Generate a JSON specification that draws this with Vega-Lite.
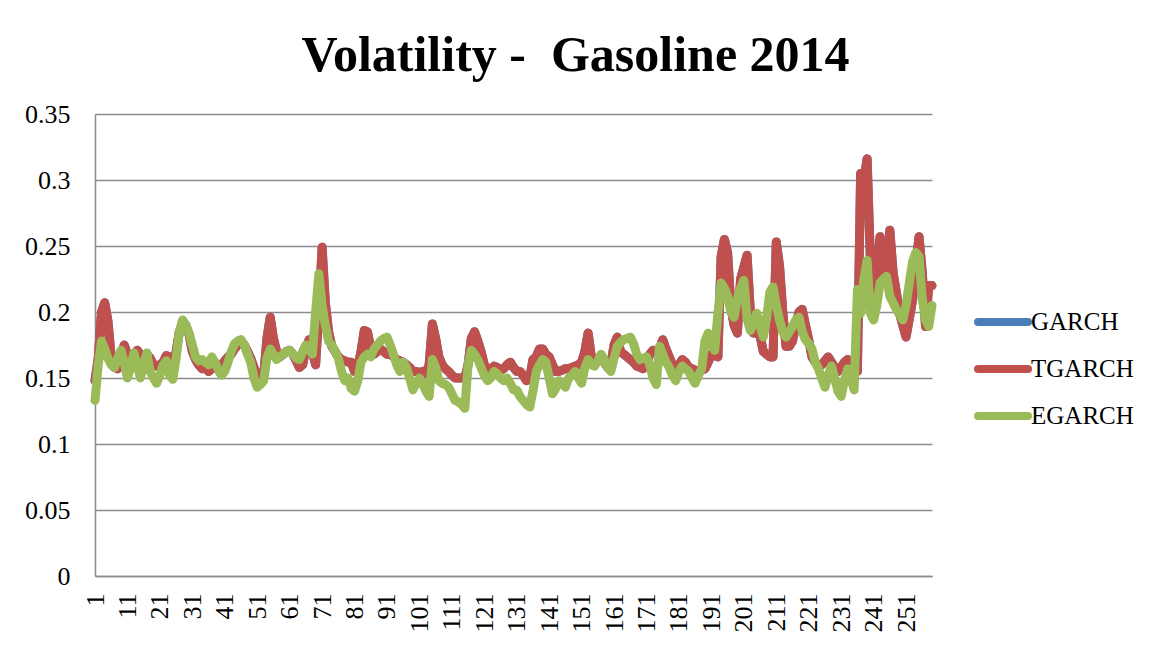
{
"$schema": "https://vega.github.io/schema/vega-lite/v6.json",
"width": 837, "height": 462,
"autosize": {"type": "none"},
"padding": {"left": 95, "top": 114, "right": 219, "bottom": 76},
"background": "white",
"title": {"text": "Volatility - \u00a0Gasoline 2014", "font": "Liberation Serif", "fontSize": 50, "fontWeight": "bold", "color": "black", "anchor": "middle", "dx": 62, "offset": 20},
"data": {"values": [
{"i":1,"GARCH":0.148,"TGARCH":0.148,"EGARCH":0.133},
{"i":2,"GARCH":0.165,"TGARCH":0.165,"EGARCH":0.160},
{"i":3,"GARCH":0.200,"TGARCH":0.200,"EGARCH":0.178},
{"i":4,"GARCH":0.207,"TGARCH":0.207,"EGARCH":0.172},
{"i":5,"GARCH":0.193,"TGARCH":0.193,"EGARCH":0.165},
{"i":6,"GARCH":0.165,"TGARCH":0.165,"EGARCH":0.160},
{"i":7,"GARCH":0.158,"TGARCH":0.158,"EGARCH":0.158},
{"i":8,"GARCH":0.157,"TGARCH":0.157,"EGARCH":0.165},
{"i":9,"GARCH":0.165,"TGARCH":0.165,"EGARCH":0.171},
{"i":10,"GARCH":0.175,"TGARCH":0.175,"EGARCH":0.162},
{"i":11,"GARCH":0.168,"TGARCH":0.168,"EGARCH":0.150},
{"i":12,"GARCH":0.157,"TGARCH":0.157,"EGARCH":0.158},
{"i":13,"GARCH":0.165,"TGARCH":0.165,"EGARCH":0.169},
{"i":14,"GARCH":0.171,"TGARCH":0.171,"EGARCH":0.160},
{"i":15,"GARCH":0.168,"TGARCH":0.168,"EGARCH":0.150},
{"i":16,"GARCH":0.166,"TGARCH":0.166,"EGARCH":0.160},
{"i":17,"GARCH":0.168,"TGARCH":0.168,"EGARCH":0.169},
{"i":18,"GARCH":0.165,"TGARCH":0.165,"EGARCH":0.155},
{"i":19,"GARCH":0.160,"TGARCH":0.160,"EGARCH":0.150},
{"i":20,"GARCH":0.159,"TGARCH":0.159,"EGARCH":0.146},
{"i":21,"GARCH":0.160,"TGARCH":0.160,"EGARCH":0.152},
{"i":22,"GARCH":0.162,"TGARCH":0.162,"EGARCH":0.160},
{"i":23,"GARCH":0.167,"TGARCH":0.167,"EGARCH":0.163},
{"i":24,"GARCH":0.166,"TGARCH":0.166,"EGARCH":0.152},
{"i":25,"GARCH":0.160,"TGARCH":0.160,"EGARCH":0.149},
{"i":26,"GARCH":0.170,"TGARCH":0.170,"EGARCH":0.165},
{"i":27,"GARCH":0.185,"TGARCH":0.185,"EGARCH":0.185},
{"i":28,"GARCH":0.190,"TGARCH":0.190,"EGARCH":0.194},
{"i":29,"GARCH":0.190,"TGARCH":0.190,"EGARCH":0.190},
{"i":30,"GARCH":0.183,"TGARCH":0.183,"EGARCH":0.184},
{"i":31,"GARCH":0.170,"TGARCH":0.170,"EGARCH":0.175},
{"i":32,"GARCH":0.164,"TGARCH":0.164,"EGARCH":0.166},
{"i":33,"GARCH":0.160,"TGARCH":0.160,"EGARCH":0.163},
{"i":34,"GARCH":0.157,"TGARCH":0.157,"EGARCH":0.164},
{"i":35,"GARCH":0.158,"TGARCH":0.158,"EGARCH":0.162},
{"i":36,"GARCH":0.155,"TGARCH":0.155,"EGARCH":0.160},
{"i":37,"GARCH":0.157,"TGARCH":0.157,"EGARCH":0.166},
{"i":38,"GARCH":0.160,"TGARCH":0.160,"EGARCH":0.162},
{"i":39,"GARCH":0.158,"TGARCH":0.158,"EGARCH":0.156},
{"i":40,"GARCH":0.160,"TGARCH":0.160,"EGARCH":0.152},
{"i":41,"GARCH":0.163,"TGARCH":0.163,"EGARCH":0.155},
{"i":42,"GARCH":0.166,"TGARCH":0.166,"EGARCH":0.162},
{"i":43,"GARCH":0.168,"TGARCH":0.168,"EGARCH":0.170},
{"i":44,"GARCH":0.172,"TGARCH":0.172,"EGARCH":0.176},
{"i":45,"GARCH":0.175,"TGARCH":0.175,"EGARCH":0.178},
{"i":46,"GARCH":0.176,"TGARCH":0.176,"EGARCH":0.179},
{"i":47,"GARCH":0.175,"TGARCH":0.175,"EGARCH":0.175},
{"i":48,"GARCH":0.170,"TGARCH":0.170,"EGARCH":0.168},
{"i":49,"GARCH":0.165,"TGARCH":0.165,"EGARCH":0.162},
{"i":50,"GARCH":0.158,"TGARCH":0.158,"EGARCH":0.150},
{"i":51,"GARCH":0.152,"TGARCH":0.152,"EGARCH":0.143},
{"i":52,"GARCH":0.150,"TGARCH":0.150,"EGARCH":0.145},
{"i":53,"GARCH":0.152,"TGARCH":0.152,"EGARCH":0.148},
{"i":54,"GARCH":0.180,"TGARCH":0.180,"EGARCH":0.165},
{"i":55,"GARCH":0.196,"TGARCH":0.196,"EGARCH":0.172},
{"i":56,"GARCH":0.180,"TGARCH":0.180,"EGARCH":0.168},
{"i":57,"GARCH":0.170,"TGARCH":0.170,"EGARCH":0.164},
{"i":58,"GARCH":0.166,"TGARCH":0.166,"EGARCH":0.166},
{"i":59,"GARCH":0.168,"TGARCH":0.168,"EGARCH":0.168},
{"i":60,"GARCH":0.170,"TGARCH":0.170,"EGARCH":0.170},
{"i":61,"GARCH":0.171,"TGARCH":0.171,"EGARCH":0.171},
{"i":62,"GARCH":0.168,"TGARCH":0.168,"EGARCH":0.168},
{"i":63,"GARCH":0.163,"TGARCH":0.163,"EGARCH":0.165},
{"i":64,"GARCH":0.158,"TGARCH":0.158,"EGARCH":0.164},
{"i":65,"GARCH":0.160,"TGARCH":0.160,"EGARCH":0.170},
{"i":66,"GARCH":0.172,"TGARCH":0.172,"EGARCH":0.175},
{"i":67,"GARCH":0.179,"TGARCH":0.179,"EGARCH":0.172},
{"i":68,"GARCH":0.170,"TGARCH":0.170,"EGARCH":0.168},
{"i":69,"GARCH":0.160,"TGARCH":0.160,"EGARCH":0.200},
{"i":70,"GARCH":0.200,"TGARCH":0.200,"EGARCH":0.229},
{"i":71,"GARCH":0.249,"TGARCH":0.249,"EGARCH":0.205},
{"i":72,"GARCH":0.207,"TGARCH":0.207,"EGARCH":0.190},
{"i":73,"GARCH":0.185,"TGARCH":0.185,"EGARCH":0.178},
{"i":74,"GARCH":0.174,"TGARCH":0.174,"EGARCH":0.175},
{"i":75,"GARCH":0.170,"TGARCH":0.170,"EGARCH":0.170},
{"i":76,"GARCH":0.166,"TGARCH":0.166,"EGARCH":0.165},
{"i":77,"GARCH":0.164,"TGARCH":0.164,"EGARCH":0.155},
{"i":78,"GARCH":0.163,"TGARCH":0.163,"EGARCH":0.148},
{"i":79,"GARCH":0.162,"TGARCH":0.162,"EGARCH":0.150},
{"i":80,"GARCH":0.162,"TGARCH":0.162,"EGARCH":0.142},
{"i":81,"GARCH":0.155,"TGARCH":0.155,"EGARCH":0.140},
{"i":82,"GARCH":0.158,"TGARCH":0.158,"EGARCH":0.148},
{"i":83,"GARCH":0.170,"TGARCH":0.170,"EGARCH":0.162},
{"i":84,"GARCH":0.186,"TGARCH":0.186,"EGARCH":0.166},
{"i":85,"GARCH":0.185,"TGARCH":0.185,"EGARCH":0.168},
{"i":86,"GARCH":0.172,"TGARCH":0.172,"EGARCH":0.166},
{"i":87,"GARCH":0.168,"TGARCH":0.168,"EGARCH":0.172},
{"i":88,"GARCH":0.170,"TGARCH":0.170,"EGARCH":0.175},
{"i":89,"GARCH":0.172,"TGARCH":0.172,"EGARCH":0.178},
{"i":90,"GARCH":0.170,"TGARCH":0.170,"EGARCH":0.180},
{"i":91,"GARCH":0.168,"TGARCH":0.168,"EGARCH":0.181},
{"i":92,"GARCH":0.168,"TGARCH":0.168,"EGARCH":0.175},
{"i":93,"GARCH":0.166,"TGARCH":0.166,"EGARCH":0.168},
{"i":94,"GARCH":0.164,"TGARCH":0.164,"EGARCH":0.160},
{"i":95,"GARCH":0.163,"TGARCH":0.163,"EGARCH":0.155},
{"i":96,"GARCH":0.162,"TGARCH":0.162,"EGARCH":0.162},
{"i":97,"GARCH":0.160,"TGARCH":0.160,"EGARCH":0.158},
{"i":98,"GARCH":0.158,"TGARCH":0.158,"EGARCH":0.150},
{"i":99,"GARCH":0.155,"TGARCH":0.155,"EGARCH":0.141},
{"i":100,"GARCH":0.155,"TGARCH":0.155,"EGARCH":0.146},
{"i":101,"GARCH":0.154,"TGARCH":0.154,"EGARCH":0.150},
{"i":102,"GARCH":0.155,"TGARCH":0.155,"EGARCH":0.146},
{"i":103,"GARCH":0.153,"TGARCH":0.153,"EGARCH":0.140},
{"i":104,"GARCH":0.160,"TGARCH":0.160,"EGARCH":0.136},
{"i":105,"GARCH":0.191,"TGARCH":0.191,"EGARCH":0.164},
{"i":106,"GARCH":0.180,"TGARCH":0.180,"EGARCH":0.158},
{"i":107,"GARCH":0.166,"TGARCH":0.166,"EGARCH":0.148},
{"i":108,"GARCH":0.160,"TGARCH":0.160,"EGARCH":0.146},
{"i":109,"GARCH":0.157,"TGARCH":0.157,"EGARCH":0.145},
{"i":110,"GARCH":0.155,"TGARCH":0.155,"EGARCH":0.143},
{"i":111,"GARCH":0.152,"TGARCH":0.152,"EGARCH":0.138},
{"i":112,"GARCH":0.150,"TGARCH":0.150,"EGARCH":0.133},
{"i":113,"GARCH":0.150,"TGARCH":0.150,"EGARCH":0.132},
{"i":114,"GARCH":0.150,"TGARCH":0.150,"EGARCH":0.130},
{"i":115,"GARCH":0.150,"TGARCH":0.150,"EGARCH":0.127},
{"i":116,"GARCH":0.160,"TGARCH":0.160,"EGARCH":0.160},
{"i":117,"GARCH":0.180,"TGARCH":0.180,"EGARCH":0.171},
{"i":118,"GARCH":0.185,"TGARCH":0.185,"EGARCH":0.168},
{"i":119,"GARCH":0.178,"TGARCH":0.178,"EGARCH":0.164},
{"i":120,"GARCH":0.170,"TGARCH":0.170,"EGARCH":0.158},
{"i":121,"GARCH":0.160,"TGARCH":0.160,"EGARCH":0.152},
{"i":122,"GARCH":0.157,"TGARCH":0.157,"EGARCH":0.148},
{"i":123,"GARCH":0.156,"TGARCH":0.156,"EGARCH":0.150},
{"i":124,"GARCH":0.159,"TGARCH":0.159,"EGARCH":0.155},
{"i":125,"GARCH":0.158,"TGARCH":0.158,"EGARCH":0.153},
{"i":126,"GARCH":0.156,"TGARCH":0.156,"EGARCH":0.150},
{"i":127,"GARCH":0.157,"TGARCH":0.157,"EGARCH":0.148},
{"i":128,"GARCH":0.160,"TGARCH":0.160,"EGARCH":0.150},
{"i":129,"GARCH":0.162,"TGARCH":0.162,"EGARCH":0.146},
{"i":130,"GARCH":0.158,"TGARCH":0.158,"EGARCH":0.141},
{"i":131,"GARCH":0.155,"TGARCH":0.155,"EGARCH":0.141},
{"i":132,"GARCH":0.155,"TGARCH":0.155,"EGARCH":0.136},
{"i":133,"GARCH":0.152,"TGARCH":0.152,"EGARCH":0.133},
{"i":134,"GARCH":0.148,"TGARCH":0.148,"EGARCH":0.130},
{"i":135,"GARCH":0.150,"TGARCH":0.150,"EGARCH":0.128},
{"i":136,"GARCH":0.164,"TGARCH":0.164,"EGARCH":0.140},
{"i":137,"GARCH":0.166,"TGARCH":0.166,"EGARCH":0.155},
{"i":138,"GARCH":0.172,"TGARCH":0.172,"EGARCH":0.160},
{"i":139,"GARCH":0.172,"TGARCH":0.172,"EGARCH":0.164},
{"i":140,"GARCH":0.168,"TGARCH":0.168,"EGARCH":0.162},
{"i":141,"GARCH":0.166,"TGARCH":0.166,"EGARCH":0.150},
{"i":142,"GARCH":0.160,"TGARCH":0.160,"EGARCH":0.138},
{"i":143,"GARCH":0.155,"TGARCH":0.155,"EGARCH":0.142},
{"i":144,"GARCH":0.155,"TGARCH":0.155,"EGARCH":0.148},
{"i":145,"GARCH":0.156,"TGARCH":0.156,"EGARCH":0.146},
{"i":146,"GARCH":0.157,"TGARCH":0.157,"EGARCH":0.143},
{"i":147,"GARCH":0.157,"TGARCH":0.157,"EGARCH":0.150},
{"i":148,"GARCH":0.158,"TGARCH":0.158,"EGARCH":0.152},
{"i":149,"GARCH":0.159,"TGARCH":0.159,"EGARCH":0.155},
{"i":150,"GARCH":0.160,"TGARCH":0.160,"EGARCH":0.150},
{"i":151,"GARCH":0.162,"TGARCH":0.162,"EGARCH":0.146},
{"i":152,"GARCH":0.170,"TGARCH":0.170,"EGARCH":0.158},
{"i":153,"GARCH":0.184,"TGARCH":0.184,"EGARCH":0.164},
{"i":154,"GARCH":0.166,"TGARCH":0.166,"EGARCH":0.160},
{"i":155,"GARCH":0.164,"TGARCH":0.164,"EGARCH":0.159},
{"i":156,"GARCH":0.164,"TGARCH":0.164,"EGARCH":0.163},
{"i":157,"GARCH":0.164,"TGARCH":0.164,"EGARCH":0.168},
{"i":158,"GARCH":0.162,"TGARCH":0.162,"EGARCH":0.164},
{"i":159,"GARCH":0.158,"TGARCH":0.158,"EGARCH":0.158},
{"i":160,"GARCH":0.160,"TGARCH":0.160,"EGARCH":0.155},
{"i":161,"GARCH":0.175,"TGARCH":0.175,"EGARCH":0.165},
{"i":162,"GARCH":0.181,"TGARCH":0.181,"EGARCH":0.174},
{"i":163,"GARCH":0.170,"TGARCH":0.170,"EGARCH":0.177},
{"i":164,"GARCH":0.168,"TGARCH":0.168,"EGARCH":0.179},
{"i":165,"GARCH":0.166,"TGARCH":0.166,"EGARCH":0.180},
{"i":166,"GARCH":0.164,"TGARCH":0.164,"EGARCH":0.181},
{"i":167,"GARCH":0.162,"TGARCH":0.162,"EGARCH":0.176},
{"i":168,"GARCH":0.159,"TGARCH":0.159,"EGARCH":0.168},
{"i":169,"GARCH":0.158,"TGARCH":0.158,"EGARCH":0.164},
{"i":170,"GARCH":0.157,"TGARCH":0.157,"EGARCH":0.165},
{"i":171,"GARCH":0.160,"TGARCH":0.160,"EGARCH":0.166},
{"i":172,"GARCH":0.168,"TGARCH":0.168,"EGARCH":0.160},
{"i":173,"GARCH":0.171,"TGARCH":0.171,"EGARCH":0.150},
{"i":174,"GARCH":0.170,"TGARCH":0.170,"EGARCH":0.145},
{"i":175,"GARCH":0.172,"TGARCH":0.172,"EGARCH":0.174},
{"i":176,"GARCH":0.179,"TGARCH":0.179,"EGARCH":0.168},
{"i":177,"GARCH":0.172,"TGARCH":0.172,"EGARCH":0.162},
{"i":178,"GARCH":0.166,"TGARCH":0.166,"EGARCH":0.158},
{"i":179,"GARCH":0.160,"TGARCH":0.160,"EGARCH":0.152},
{"i":180,"GARCH":0.157,"TGARCH":0.157,"EGARCH":0.148},
{"i":181,"GARCH":0.160,"TGARCH":0.160,"EGARCH":0.155},
{"i":182,"GARCH":0.164,"TGARCH":0.164,"EGARCH":0.159},
{"i":183,"GARCH":0.162,"TGARCH":0.162,"EGARCH":0.157},
{"i":184,"GARCH":0.158,"TGARCH":0.158,"EGARCH":0.155},
{"i":185,"GARCH":0.157,"TGARCH":0.157,"EGARCH":0.150},
{"i":186,"GARCH":0.156,"TGARCH":0.156,"EGARCH":0.146},
{"i":187,"GARCH":0.155,"TGARCH":0.155,"EGARCH":0.152},
{"i":188,"GARCH":0.156,"TGARCH":0.156,"EGARCH":0.157},
{"i":189,"GARCH":0.157,"TGARCH":0.157,"EGARCH":0.178},
{"i":190,"GARCH":0.162,"TGARCH":0.162,"EGARCH":0.184},
{"i":191,"GARCH":0.168,"TGARCH":0.168,"EGARCH":0.175},
{"i":192,"GARCH":0.167,"TGARCH":0.167,"EGARCH":0.171},
{"i":193,"GARCH":0.166,"TGARCH":0.166,"EGARCH":0.199},
{"i":194,"GARCH":0.242,"TGARCH":0.242,"EGARCH":0.222},
{"i":195,"GARCH":0.255,"TGARCH":0.255,"EGARCH":0.218},
{"i":196,"GARCH":0.245,"TGARCH":0.245,"EGARCH":0.212},
{"i":197,"GARCH":0.204,"TGARCH":0.204,"EGARCH":0.200},
{"i":198,"GARCH":0.190,"TGARCH":0.190,"EGARCH":0.196},
{"i":199,"GARCH":0.184,"TGARCH":0.184,"EGARCH":0.210},
{"i":200,"GARCH":0.225,"TGARCH":0.225,"EGARCH":0.218},
{"i":201,"GARCH":0.234,"TGARCH":0.234,"EGARCH":0.224},
{"i":202,"GARCH":0.243,"TGARCH":0.243,"EGARCH":0.195},
{"i":203,"GARCH":0.200,"TGARCH":0.200,"EGARCH":0.186},
{"i":204,"GARCH":0.184,"TGARCH":0.184,"EGARCH":0.192},
{"i":205,"GARCH":0.184,"TGARCH":0.184,"EGARCH":0.199},
{"i":206,"GARCH":0.182,"TGARCH":0.182,"EGARCH":0.190},
{"i":207,"GARCH":0.170,"TGARCH":0.170,"EGARCH":0.181},
{"i":208,"GARCH":0.168,"TGARCH":0.168,"EGARCH":0.195},
{"i":209,"GARCH":0.166,"TGARCH":0.166,"EGARCH":0.215},
{"i":210,"GARCH":0.166,"TGARCH":0.166,"EGARCH":0.219},
{"i":211,"GARCH":0.253,"TGARCH":0.253,"EGARCH":0.205},
{"i":212,"GARCH":0.235,"TGARCH":0.235,"EGARCH":0.194},
{"i":213,"GARCH":0.200,"TGARCH":0.200,"EGARCH":0.185},
{"i":214,"GARCH":0.174,"TGARCH":0.174,"EGARCH":0.181},
{"i":215,"GARCH":0.174,"TGARCH":0.174,"EGARCH":0.185},
{"i":216,"GARCH":0.178,"TGARCH":0.178,"EGARCH":0.189},
{"i":217,"GARCH":0.190,"TGARCH":0.190,"EGARCH":0.194},
{"i":218,"GARCH":0.200,"TGARCH":0.200,"EGARCH":0.196},
{"i":219,"GARCH":0.202,"TGARCH":0.202,"EGARCH":0.185},
{"i":220,"GARCH":0.190,"TGARCH":0.190,"EGARCH":0.179},
{"i":221,"GARCH":0.179,"TGARCH":0.179,"EGARCH":0.176},
{"i":222,"GARCH":0.166,"TGARCH":0.166,"EGARCH":0.172},
{"i":223,"GARCH":0.162,"TGARCH":0.162,"EGARCH":0.162},
{"i":224,"GARCH":0.159,"TGARCH":0.159,"EGARCH":0.157},
{"i":225,"GARCH":0.160,"TGARCH":0.160,"EGARCH":0.150},
{"i":226,"GARCH":0.163,"TGARCH":0.163,"EGARCH":0.143},
{"i":227,"GARCH":0.166,"TGARCH":0.166,"EGARCH":0.152},
{"i":228,"GARCH":0.162,"TGARCH":0.162,"EGARCH":0.159},
{"i":229,"GARCH":0.158,"TGARCH":0.158,"EGARCH":0.150},
{"i":230,"GARCH":0.155,"TGARCH":0.155,"EGARCH":0.140},
{"i":231,"GARCH":0.158,"TGARCH":0.158,"EGARCH":0.136},
{"i":232,"GARCH":0.162,"TGARCH":0.162,"EGARCH":0.148},
{"i":233,"GARCH":0.164,"TGARCH":0.164,"EGARCH":0.157},
{"i":234,"GARCH":0.160,"TGARCH":0.160,"EGARCH":0.150},
{"i":235,"GARCH":0.155,"TGARCH":0.155,"EGARCH":0.141},
{"i":236,"GARCH":0.155,"TGARCH":0.155,"EGARCH":0.217},
{"i":237,"GARCH":0.305,"TGARCH":0.305,"EGARCH":0.199},
{"i":238,"GARCH":0.300,"TGARCH":0.300,"EGARCH":0.225},
{"i":239,"GARCH":0.316,"TGARCH":0.316,"EGARCH":0.239},
{"i":240,"GARCH":0.240,"TGARCH":0.240,"EGARCH":0.199},
{"i":241,"GARCH":0.200,"TGARCH":0.200,"EGARCH":0.194},
{"i":242,"GARCH":0.230,"TGARCH":0.230,"EGARCH":0.205},
{"i":243,"GARCH":0.257,"TGARCH":0.257,"EGARCH":0.222},
{"i":244,"GARCH":0.235,"TGARCH":0.235,"EGARCH":0.225},
{"i":245,"GARCH":0.222,"TGARCH":0.222,"EGARCH":0.227},
{"i":246,"GARCH":0.262,"TGARCH":0.262,"EGARCH":0.212},
{"i":247,"GARCH":0.230,"TGARCH":0.230,"EGARCH":0.207},
{"i":248,"GARCH":0.215,"TGARCH":0.215,"EGARCH":0.202},
{"i":249,"GARCH":0.199,"TGARCH":0.199,"EGARCH":0.198},
{"i":250,"GARCH":0.190,"TGARCH":0.190,"EGARCH":0.194},
{"i":251,"GARCH":0.181,"TGARCH":0.181,"EGARCH":0.205},
{"i":252,"GARCH":0.195,"TGARCH":0.195,"EGARCH":0.222},
{"i":253,"GARCH":0.209,"TGARCH":0.209,"EGARCH":0.238},
{"i":254,"GARCH":0.235,"TGARCH":0.235,"EGARCH":0.245},
{"i":255,"GARCH":0.257,"TGARCH":0.257,"EGARCH":0.242},
{"i":256,"GARCH":0.230,"TGARCH":0.230,"EGARCH":0.210},
{"i":257,"GARCH":0.189,"TGARCH":0.189,"EGARCH":0.194},
{"i":258,"GARCH":0.220,"TGARCH":0.220,"EGARCH":0.189},
{"i":259,"GARCH":0.220,"TGARCH":0.220,"EGARCH":0.205}
]},
"transform": [{"fold": ["GARCH", "TGARCH", "EGARCH"], "as": ["series", "value"]}],
"mark": {"type": "line", "strokeWidth": 9, "strokeCap": "round", "strokeJoin": "round"},
"encoding": {
  "x": {"field": "i", "type": "ordinal", "sort": "ascending", "scale": {"type": "point", "padding": 0},
        "axis": {"values": [1,11,21,31,41,51,61,71,81,91,101,111,121,131,141,151,161,171,181,191,201,211,221,231,241,251],
                 "labelAngle": -90, "labelFont": "Liberation Serif", "labelFontSize": 26, "labelColor": "black",
                 "ticks": false, "labelPadding": 17, "domainColor": "#8c8c8c", "domainWidth": 1.5, "title": null, "grid": false}},
  "y": {"field": "value", "type": "quantitative", "scale": {"domain": [0, 0.35], "nice": false},
        "axis": {"values": [0,0.05,0.1,0.15,0.2,0.25,0.3,0.35], "format": ".2~f", "labelFont": "Liberation Serif", "labelFontSize": 26,
                 "labelColor": "black", "labelPadding": 25, "ticks": false, "gridColor": "#8c8c8c", "gridWidth": 1.5,
                 "domainColor": "#8c8c8c", "domainWidth": 1.5, "title": null}},
  "color": {"field": "series", "type": "nominal",
            "scale": {"domain": ["GARCH", "TGARCH", "EGARCH"], "range": ["#4A7EBB", "#C0504D", "#9BBB59"]},
            "legend": {"title": null, "orient": "none", "legendX": 879, "legendY": 179, "symbolType": "stroke", "symbolSize": 2500,
                       "symbolStrokeWidth": 8, "labelFont": "Liberation Serif", "labelFontSize": 25, "labelColor": "black",
                       "labelOffset": -1, "rowPadding": 2, "padding": 0,
                       "encode": {"symbols": {"update": {"strokeCap": {"value": "round"}}}}}}
},
"config": {"view": {"stroke": null}}
}
